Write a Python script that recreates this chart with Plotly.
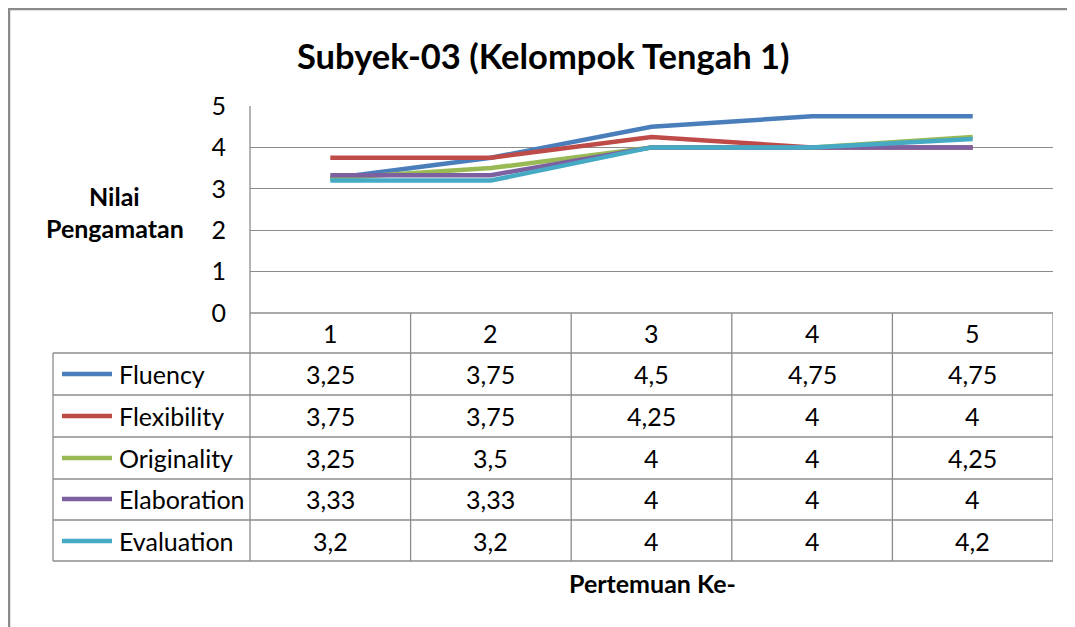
import plotly.graph_objects as go

categories = [1, 2, 3, 4, 5]
series_names = ["Fluency", "Flexibility", "Originality", "Elaboration", "Evaluation"]
fluency = [3.25, 3.75, 4.5, 4.75, 4.75]
flexibility = [3.75, 3.75, 4.25, 4.0, 4.0]
originality = [3.25, 3.5, 4.0, 4.0, 4.25]
elaboration = [3.33, 3.33, 4.0, 4.0, 4.0]
evaluation = [3.2, 3.2, 4.0, 4.0, 4.2]
series_values = [fluency, flexibility, originality, elaboration, evaluation]
y_ticks = [0, 1, 2, 3, 4, 5]

colors = ["#4A7EBB", "#BE4B48", "#98B954", "#7D60A0", "#46AAC5"]

OFF = 8  # page body margin
W, H = 1075 - OFF, 627 - OFF
FONT = "Lato"


def px(x):
    return (x - OFF) / W


def py(y):
    return 1 - (y - OFF) / H


fig = go.Figure()
for name, vals, col in zip(series_names, series_values, colors):
    fig.add_trace(go.Scatter(x=categories, y=vals, mode="lines", name=name,
                             line=dict(color=col, width=4.5), hoverinfo="skip"))

shapes = []
grid = "#8C8C8C"
border = "#8A8A8A"
# outer chart border (left and top)
shapes.append(dict(type="line", xref="paper", yref="paper", x0=px(9), x1=px(9), y0=py(8), y1=0,
                   line=dict(color=border, width=2.5)))
shapes.append(dict(type="line", xref="paper", yref="paper", x0=px(8), x1=1, y0=py(9), y1=py(9),
                   line=dict(color=border, width=2.5)))
# table horizontal lines
shapes.append(dict(type="line", xref="paper", yref="paper", x0=px(250), x1=px(1053), y0=py(313), y1=py(313),
                   line=dict(color=grid, width=1.3)))
row_lines = [353, 395, 437, 479, 520, 561]
for ry in row_lines:
    shapes.append(dict(type="line", xref="paper", yref="paper", x0=px(53), x1=px(1053), y0=py(ry), y1=py(ry),
                       line=dict(color=grid, width=1.3)))
# table vertical lines
shapes.append(dict(type="line", xref="paper", yref="paper", x0=px(53), x1=px(53), y0=py(353), y1=py(561),
                   line=dict(color=grid, width=1.3)))
shapes.append(dict(type="line", xref="paper", yref="paper", x0=px(250), x1=px(250), y0=py(106), y1=py(561),
                   line=dict(color=grid, width=1.3)))
for c in categories:
    shapes.append(dict(type="line", xref="x", yref="paper", x0=c + 0.5, x1=c + 0.5, y0=py(313), y1=py(561),
                       line=dict(color=grid, width=1.3)))
# legend samples
row_centers = [374, 416, 458, 499, 541]
for rc, col in zip(row_centers, colors):
    shapes.append(dict(type="line", xref="paper", yref="paper", x0=px(62), x1=px(112), y0=py(rc), y1=py(rc),
                       line=dict(color=col, width=4.5)))

annotations = []
annotations.append(dict(text="<b>Subyek-03 (Kelompok Tengah 1)</b>", xref="paper", yref="paper",
                        x=px(543), y=py(55), showarrow=False, xanchor="center", yanchor="middle",
                        font=dict(family=FONT, size=34.5, color="#000000")))
annotations.append(dict(text="<b>Nilai</b>", xref="paper", yref="paper", x=px(115), y=py(196),
                        showarrow=False, xanchor="center", yanchor="middle",
                        font=dict(family=FONT, size=25, color="#000000")))
annotations.append(dict(text="<b>Pengamatan</b>", xref="paper", yref="paper", x=px(115), y=py(228),
                        showarrow=False, xanchor="center", yanchor="middle",
                        font=dict(family=FONT, size=25, color="#000000")))
annotations.append(dict(text="<b>Pertemuan Ke-</b>", xref="paper", yref="paper", x=px(652), y=py(583),
                        showarrow=False, xanchor="center", yanchor="middle",
                        font=dict(family=FONT, size=25, color="#000000")))
for c in categories:
    annotations.append(dict(text=str(c), xref="x", yref="paper", x=c, y=py(333), showarrow=False,
                            xanchor="center", yanchor="middle", font=dict(family=FONT, size=25, color="#000000")))


def fmt(v):
    return f"{v:g}".replace(".", ",")


for rc, name, vals in zip(row_centers, series_names, series_values):
    annotations.append(dict(text=name, xref="paper", yref="paper", x=px(117), y=py(rc), showarrow=False,
                            xanchor="left", yanchor="middle", font=dict(family=FONT, size=25, color="#000000")))
    for c, v in zip(categories, vals):
        annotations.append(dict(text=fmt(v), xref="x", yref="paper", x=c, y=py(rc), showarrow=False,
                                xanchor="center", yanchor="middle",
                                font=dict(family=FONT, size=25, color="#000000")))

fig.update_layout(
    width=W, height=H,
    margin=dict(l=0, r=0, t=0, b=0, pad=0, autoexpand=False),
    paper_bgcolor="white", plot_bgcolor="white",
    showlegend=False,
    shapes=shapes,
    annotations=annotations,
    xaxis=dict(domain=[px(250), px(1053)], range=[0.5, 5.5], showticklabels=False, showgrid=False,
               zeroline=False, showline=False, fixedrange=True),
    yaxis=dict(domain=[py(313), py(106)], range=[0, 5], tickvals=y_ticks, ticktext=[str(t) for t in y_ticks],
               showgrid=True, gridcolor=grid, gridwidth=1.3, zeroline=False, showline=False,
               ticks="", ticklabelstandoff=23,
               tickfont=dict(family=FONT, size=25, color="#000000"), fixedrange=True),
)

fig.write_html("out.html", config={"displayModeBar": False})
